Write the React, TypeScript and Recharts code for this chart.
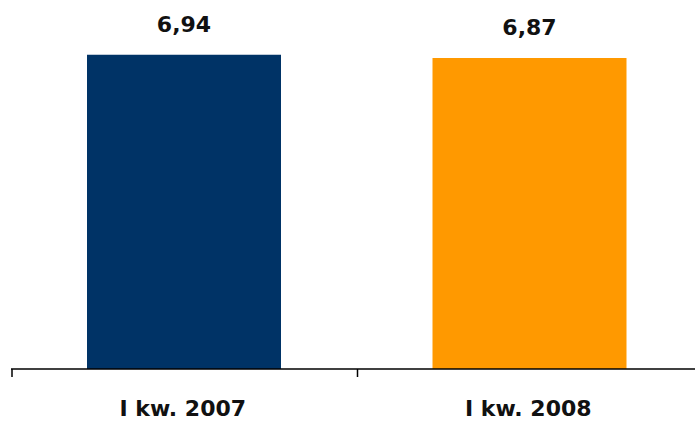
import { BarChart, Bar, XAxis, YAxis, Cell, LabelList } from 'recharts'

const KATEGORIE = ['I kw. 2007', 'I kw. 2008']
const WARTOSCI = [6.94, 6.87]
const KOLORY = ['#003366', '#FF9900']

const dane = KATEGORIE.map((k, i) => ({ okres: k, wartosc: WARTOSCI[i] }))

const SZER = 710
const WYS = 422
const MARGINES = { top: 0, right: 8, left: 11, bottom: 0 }
const POL_PASMA = (SZER - MARGINES.left - MARGINES.right) / KATEGORIE.length / 2

const czcionka = 'DejaVu Sans, Verdana, sans-serif'

function Etykieta(props: any) {
  const { x, y, payload } = props
  // y przychodzi ok. 8 px pod osią
  return (
    <g>
      <line x1={x - POL_PASMA + 1} x2={x - POL_PASMA + 1} y1={y - 8} y2={y} stroke="#000" strokeWidth={1.5} />
      <text x={x - 1} y={y + 39} textAnchor="middle" fontFamily={czcionka} fontWeight="bold" fontSize={22} fill="#111">
        {payload.value}
      </text>
    </g>
  )
}

function Wartosc(props: any) {
  const { x, y, width, value } = props
  return (
    <text x={x + width / 2} y={y - 23} textAnchor="middle" fontFamily={czcionka} fontWeight="bold" fontSize={22} fill="#111">
      {String(value).replace('.', ',')}
    </text>
  )
}

export default function App() {
  return (
    <div style={{ position: 'absolute', left: 0, top: 0, width: 695, height: 422, overflow: 'hidden', background: '#fff' }}>
      <BarChart width={SZER} height={WYS} data={dane} margin={MARGINES} barSize={194}>
        <XAxis
          dataKey="okres"
          height={53}
          axisLine={{ stroke: '#000', strokeWidth: 1.5 }}
          tickLine={false}
          tick={<Etykieta />}
          interval={0}
        />
        <YAxis hide domain={[0, 8.15]} />
        <Bar dataKey="wartosc" isAnimationActive={false}>
          {dane.map((_, i) => <Cell key={i} fill={KOLORY[i]} />)}
          <LabelList dataKey="wartosc" content={<Wartosc />} />
        </Bar>
      </BarChart>
    </div>
  )
}
